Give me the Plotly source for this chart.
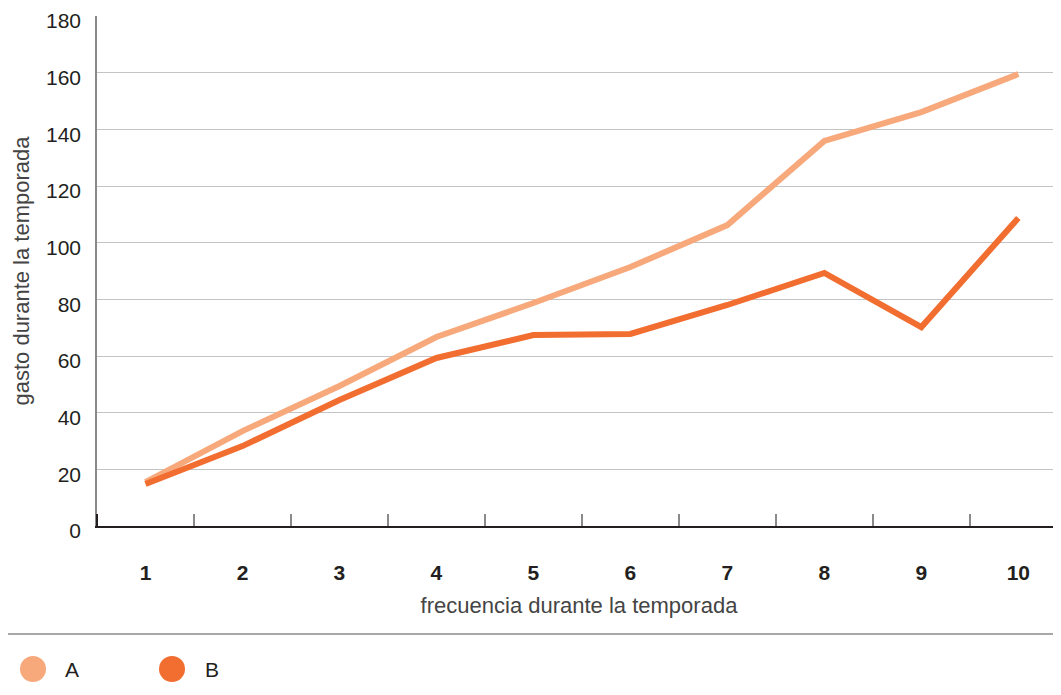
import plotly.graph_objects as go

categories = ["1", "2", "3", "4", "5", "6", "7", "8", "9", "10"]
serie_a = [15.5, 33.5, 49.4, 66.7, 78.7, 91.4, 106.2, 135.9, 146.1, 159.5]
serie_b = [14.8, 28.2, 44.5, 59.3, 67.4, 67.8, 78.0, 89.3, 70.2, 108.7]
y_ticks = [0, 20, 40, 60, 80, 100, 120, 140, 160, 180]

col_a = "#F7A97C"
col_b = "#F26D30"
txt = "#231F20"
font = "Liberation Sans, Arial, Helvetica, sans-serif"

OFF = 8  # page body margin
W, H = 1061 - OFF, 695 - OFF
L, R, T = 97 - OFF, 0, 16 - OFF
B = H - (526 - OFF)
pw, ph = W - L - R, H - T - B

def px_x(x):
    return (x - OFF - L) / pw

def px_y(y):
    return (H - B - (y - OFF)) / ph

fig = go.Figure()
fig.add_trace(go.Scatter(x=categories, y=serie_a, mode="lines", name="A",
                         line=dict(color=col_a, width=6), showlegend=False))
fig.add_trace(go.Scatter(x=categories, y=serie_b, mode="lines", name="B",
                         line=dict(color=col_b, width=6), showlegend=False))

fig.update_layout(
    width=W, height=H,
    margin=dict(l=L, r=R, t=T, b=B),
    plot_bgcolor="white", paper_bgcolor="white",
    font=dict(family=font, color=txt),
    xaxis=dict(
        type="category", range=[-0.5, 9.44], automargin=False,
        tickson="boundaries", ticks="inside", ticklen=12, tickwidth=1.5,
        tickcolor="#8a8a8a",
        showline=True, linecolor=txt, linewidth=2,
        showgrid=False, zeroline=False,
        tickfont=dict(size=21, color=txt, weight="bold"),
        ticklabelstandoff=27,
        title=dict(text="frecuencia durante la temporada", standoff=14,
                   font=dict(size=22, color="#444444")),
    ),
    yaxis=dict(
        range=[0, 180], tickvals=y_ticks, ticktext=[str(v) for v in y_ticks],
        automargin=False,
        showgrid=True, gridcolor="#c4c4c4", gridwidth=1,
        showline=True, linecolor="#8a8a8a", linewidth=1.5,
        zeroline=False, ticks="", ticklabelstandoff=10,
        ticklabeloverflow="allow", ticklabelshift=5,
        tickfont=dict(size=21, color=txt),
        title=dict(text="gasto durante la temporada", standoff=10,
                   font=dict(size=22, color="#444444")),
    ),
)

shapes = [
    dict(type="line", xref="paper", yref="paper",
         x0=px_x(8), x1=px_x(1061), y0=px_y(634), y1=px_y(634),
         line=dict(color="#8a8a8a", width=1.5)),
    dict(type="line", xref="paper", yref="paper",
         x0=0, x1=0, y0=0, y1=px_y(514),
         line=dict(color=txt, width=2)),
]
for cx, col in [(33, col_a), (172, col_b)]:
    shapes.append(dict(type="circle", xref="paper", yref="paper",
                       xsizemode="pixel", ysizemode="pixel",
                       xanchor=px_x(cx), yanchor=px_y(669),
                       x0=-13, x1=13, y0=-13, y1=13,
                       fillcolor=col, line=dict(width=0)))
fig.update_layout(shapes=shapes)

for tx, label in [(72, "A"), (212, "B")]:
    fig.add_annotation(xref="paper", yref="paper", x=px_x(tx), y=px_y(670),
                       xanchor="center", yanchor="middle",
                       text=label, showarrow=False,
                       font=dict(size=21, color=txt, family=font))

fig.write_html("out.html")
